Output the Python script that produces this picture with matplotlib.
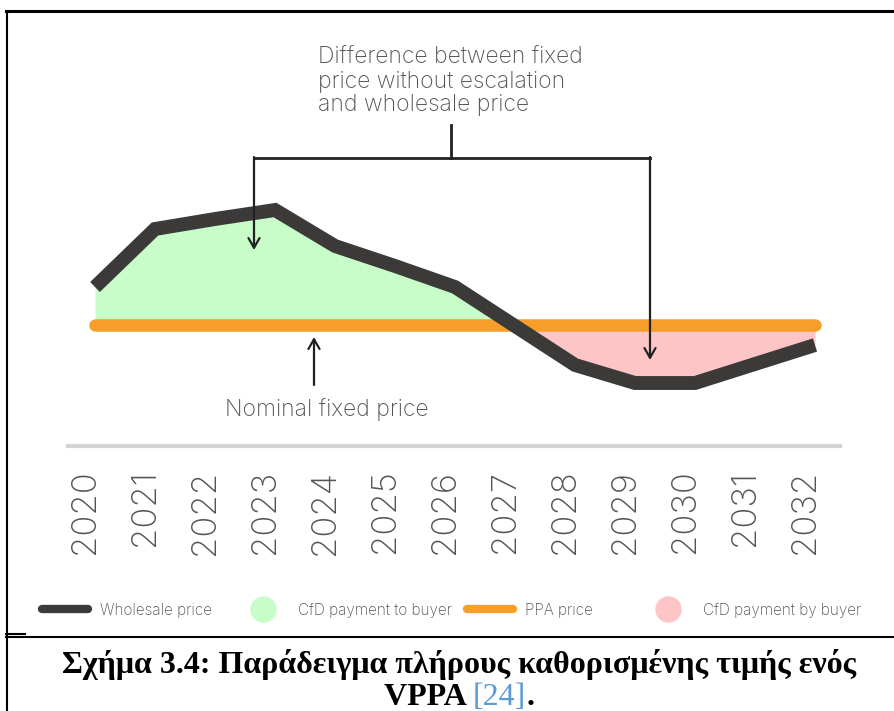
import matplotlib
matplotlib.use("Agg")
from matplotlib import pyplot as plt
from matplotlib.lines import Line2D
import matplotlib.transforms as mtrans
import numpy as np

years = [2020, 2021, 2022, 2023, 2024, 2025, 2026, 2027, 2028, 2029, 2030, 2031, 2032]
wholesale = [15.3, 21.1, 22.1, 23.0, 19.4, 17.4, 15.3, 11.4, 7.5, 5.7, 5.7, 7.6, 9.5]
ppa_price = 11.5

note_top = "Difference between fixed\nprice without escalation\nand wholesale price"
note_low = "Nominal fixed price"
legend_labels = ["Wholesale price", "CfD payment to buyer", "PPA price", "CfD payment by buyer"]

c_line = "#3b3a39"
c_ppa = "#f79d2a"
c_green = "#c8fcc8"
c_pink = "#fdc5c5"
c_text = "#555555"

chart_font = ["Inter", "DejaVu Sans"]
chart_wt = "light"

W, H = 894, 711
fig = plt.figure(figsize=(W / 100, H / 100), dpi=100)

# axes spans the full width, bottom at the grey baseline
ax = fig.add_axes([0, 1 - 446 / H, 1, 446 / H])
ax.set_xlim(2020 - 95 / 60, 2020 + (W - 95) / 60)
ax.set_ylim(-0.6, 44)
for s in ax.spines.values():
    s.set_visible(False)
ax.set_yticks([])

x = np.array(years, dtype=float)
y = np.array(wholesale)
ppa = np.full_like(y, ppa_price)

ax.fill_between(x, y, ppa, where=y >= ppa, interpolate=True, color=c_green, lw=0, zorder=1)
ax.fill_between(x, y, ppa, where=y <= ppa, interpolate=True, color=c_pink, lw=0, zorder=1)
ax.plot(x, ppa, color=c_ppa, lw=9, solid_capstyle="round", zorder=2)
ax.plot(x, y, color=c_line, lw=10, solid_capstyle="butt", solid_joinstyle="miter", zorder=3)

# grey baseline
ax.axhline(-0.6, xmin=68 / W, xmax=840 / W, color="#d4d4d4", lw=3, clip_on=False)

ax.set_xticks(x)
ax.set_xticklabels([str(v) for v in years], rotation=90, fontsize=25,
                   color=c_text, family=chart_font, fontweight=chart_wt)
ax.tick_params(axis="x", length=0, pad=17)
off = mtrans.ScaledTranslation(-10 / 100, 0, fig.dpi_scale_trans)
for lab in ax.get_xticklabels():
    lab.set_transform(lab.get_transform() + off)

# annotations
ax.text(2023.72, 39.3, note_top, fontsize=16.5, color=c_text, family=chart_font,
        fontweight=chart_wt, ha="left", va="top", linespacing=1.1)
bx_mid, bx_l, bx_r = 2025.93, 2022.65, 2029.25
ax.plot([bx_mid, bx_mid], [31.5, 28.2], color="#222222", lw=2)
ax.plot([bx_l, bx_r], [28.2, 28.2], color="#222222", lw=2)
arrow = dict(arrowstyle="->,head_length=0.7,head_width=0.4", color="#222222", lw=1.6,
             shrinkA=0, shrinkB=0)
ax.annotate("", xy=(bx_l, 19.0), xytext=(bx_l, 28.3), arrowprops=arrow)
ax.annotate("", xy=(bx_r, 8.0), xytext=(bx_r, 28.3), arrowprops=arrow)
ax.annotate("", xy=(2023.65, 10.3), xytext=(2023.65, 5.5), arrowprops=arrow)
ax.text(2023.87, 3.0, note_low, fontsize=16.5, color=c_text, family=chart_font,
        fontweight=chart_wt, ha="center", va="center")

# legend, one entry at a time so each sits where the reference has it
handles = [
    Line2D([], [], color=c_line, lw=6, solid_capstyle="round"),
    Line2D([], [], ls="", marker="o", markersize=19, markerfacecolor=c_green,
           markeredgecolor="none"),
    Line2D([], [], color=c_ppa, lw=6, solid_capstyle="round"),
    Line2D([], [], ls="", marker="o", markersize=19, markerfacecolor=c_pink,
           markeredgecolor="none"),
]
leg_x = [42, 240, 467, 645]
for h, lab, lx in zip(handles, legend_labels, leg_x):
    leg = fig.legend([h], [lab], loc="center left", bbox_to_anchor=(lx / W, 1 - 610 / H),
                     frameon=False, handlelength=3.0, handletextpad=0.8,
                     prop={"family": chart_font, "size": 11, "weight": chart_wt},
                     borderaxespad=0, borderpad=0)
    for t in leg.get_texts():
        t.set_color(c_text)

# frame lines of the figure box
fig.add_artist(Line2D([7 / W, 7 / W], [0, 1 - 11 / H], color="black", lw=1.5))
fig.add_artist(Line2D([6 / W, 1], [1 - 11 / H, 1 - 11 / H], color="black", lw=2.2))
fig.add_artist(Line2D([6 / W, 1], [1 - 637 / H, 1 - 637 / H], color="black", lw=1.5))
fig.add_artist(Line2D([6 / W, 25 / W], [1 - 634 / H, 1 - 634 / H], color="black", lw=1.5))

# caption
cap_font = "Liberation Serif"
cap_size = 23
cap_cx = 459
fig.text(cap_cx / W, 1 - 673 / H, "Σχήμα 3.4: Παράδειγμα πλήρους καθορισμένης τιμής ενός",
         ha="center", va="baseline", fontsize=cap_size, fontweight="bold", family=cap_font)
parts = [("VPPA ", "black", "bold"), ("[24]", "#5b9bd5", "normal"), (".", "black", "bold")]
txts = []
for s, col, wt in parts:
    txts.append(fig.text(0, 1 - 705 / H, s, ha="left", va="baseline", fontsize=cap_size,
                         fontweight=wt, color=col, family=cap_font))
fig.canvas.draw()
r = fig.canvas.get_renderer()
widths = [t.get_window_extent(r).width for t in txts]
x0 = cap_cx - sum(widths) / 2
for t, wdt in zip(txts, widths):
    t.set_x(x0 / W)
    x0 += wdt

fig.savefig("out.png", dpi=100)
